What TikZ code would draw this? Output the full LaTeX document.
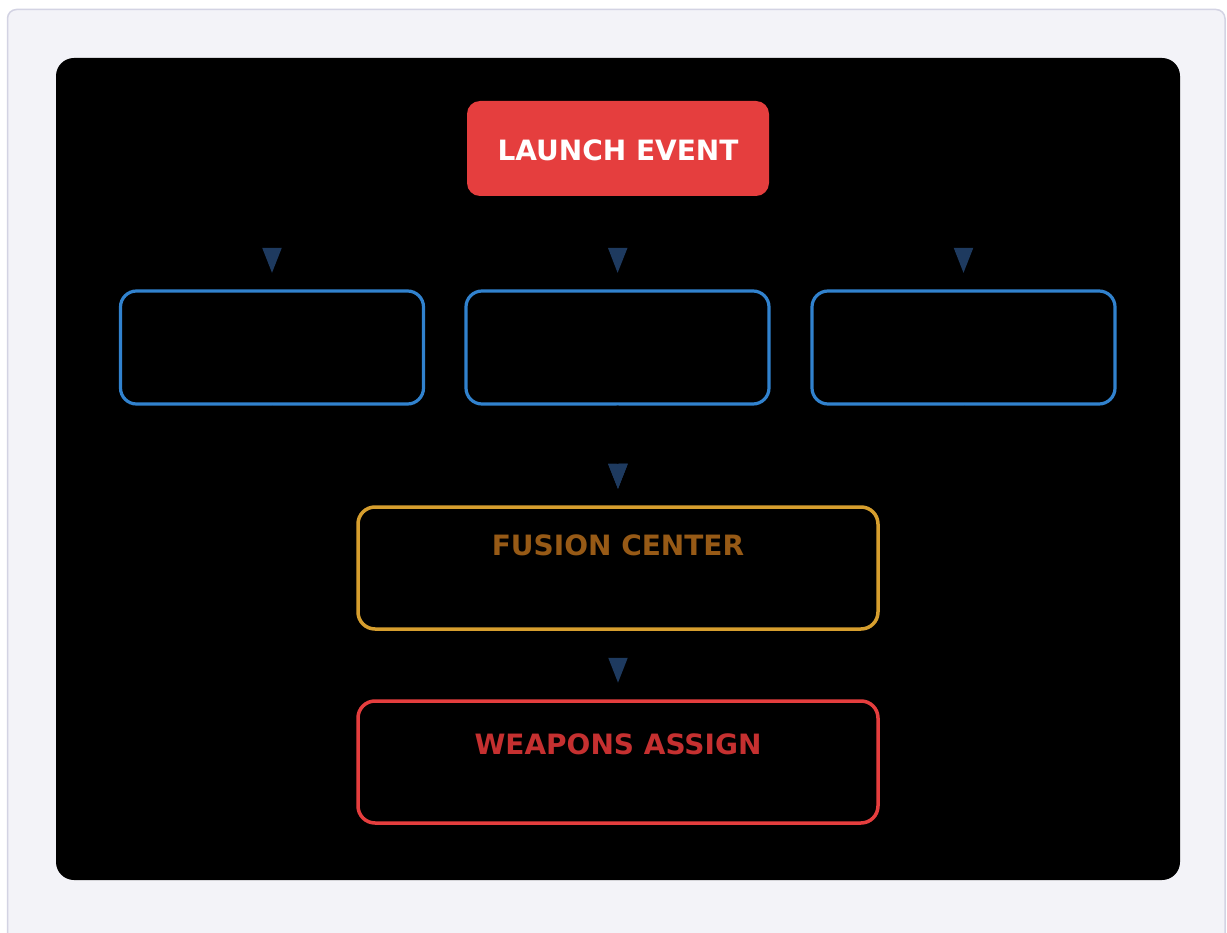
\documentclass[tikz,border=0pt]{standalone}
\usepackage{fontspec}
\setmainfont{DejaVu Sans}
\usetikzlibrary{arrows.meta}
\definecolor{framefill}{HTML}{F3F3F8}
\definecolor{framedraw}{HTML}{D3D3E3}
\definecolor{launchred}{HTML}{E53E3E}
\definecolor{sensorblue}{HTML}{3182CE}
\definecolor{fusionline}{HTML}{D69E2E}
\definecolor{fusiontext}{HTML}{975A16}
\definecolor{weaponline}{HTML}{E53E3E}
\definecolor{weapontext}{HTML}{C53030}
\definecolor{arrowblue}{HTML}{1E3A5F}
\tikzset{
  sensorbox/.style={draw=sensorblue, line width=3.2pt, rounded corners=16pt, minimum width=303pt, minimum height=113pt, inner sep=0pt},
  wide/.style={line width=3.5pt, rounded corners=17pt, minimum width=520pt, minimum height=122pt, inner sep=0pt},
  title/.style={font=\bfseries\fontsize{28}{28}\selectfont, inner sep=0pt, anchor=base},
  conn/.style={draw=black, line width=2pt, shorten >=16.5pt,
    -{Triangle[width=19pt,length=25pt,color=arrowblue,fill=arrowblue]}},
}
\begin{document}
\begin{tikzpicture}[x=1pt,y=-1pt]
\useasboundingbox (0,0) rectangle (1227,933);
% outer card
\draw[fill=framefill, draw=framedraw, line width=1.5pt, rounded corners=9pt] (7.5,9.5) rectangle (1225,950);
% black panel
\fill[black, rounded corners=18pt] (56,58) rectangle (1180,880);
% nodes
\node[fill=launchred, rounded corners=13pt, minimum width=302pt, minimum height=95pt, inner sep=0pt] (launch) at (618,148.5) {};
\node[title, text=white] (launcht) at (618,161) {LAUNCH EVENT};
\node[sensorbox] (s1) at (272,347.5) {};
\node[sensorbox] (s2) at (617.5,347.5) {};
\node[sensorbox] (s3) at (963.5,347.5) {};
\node[wide, draw=fusionline] (fusion) at (618,568) {};
\node[title, text=fusiontext] (fusiont) at (618,555) {FUSION CENTER};
\node[wide, draw=weaponline] (weapons) at (618,762) {};
\node[title, text=weapontext] (weaponst) at (618,754) {WEAPONS ASSIGN};
% connectors
\draw[conn] (launch.south) -- ++(0,40) -| (s1.north);
\draw[conn] (launch.south) -- (s2.north);
\draw[conn] (launch.south) -- ++(0,40) -| (s3.north);
\draw[conn] (s1.south) |- ++(0,40) -| (fusion.north);
\draw[conn] (s3.south) |- ++(0,40) -| (fusion.north);
\draw[conn] (s2.south) -- (fusion.north);
\draw[conn] (fusion.south) -- (weapons.north);
\end{tikzpicture}
\end{document}
